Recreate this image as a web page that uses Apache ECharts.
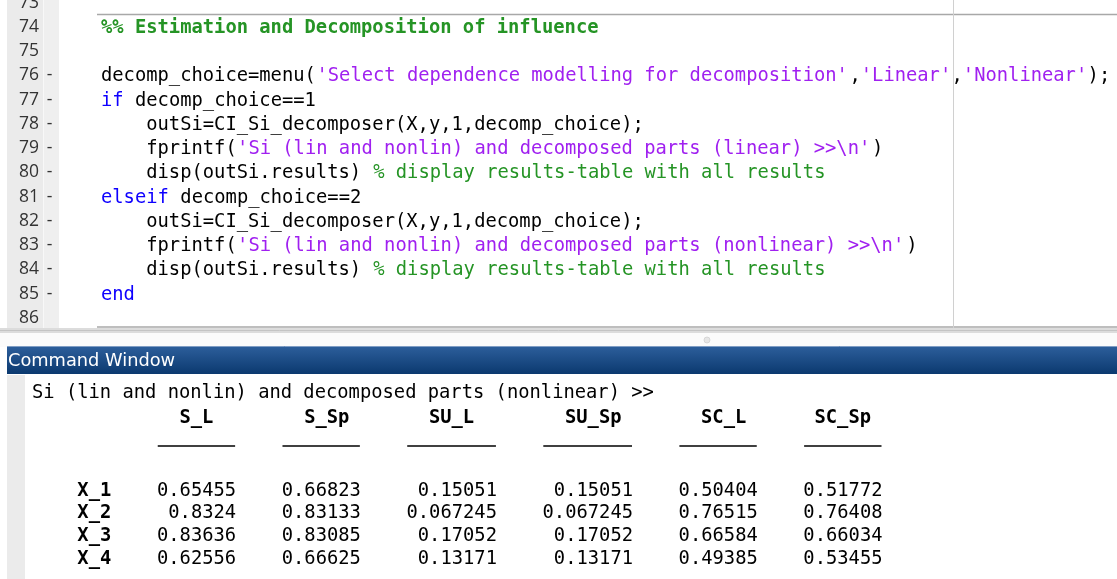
<!DOCTYPE html>
<html>
<head>
<meta charset="utf-8">
<script src="https://cdn.jsdelivr.net/npm/echarts@6/dist/echarts.min.js"></script>
<style>
html,body{margin:0;padding:0;background:#fff;}
#main{width:1117px;height:579px;}
</style>
</head>
<body>
<div id="main"></div>
<script>
// ---- Data ----
var rowNames = ['X_1', 'X_2', 'X_3', 'X_4'];
var colNames = ['S_L', 'S_Sp', 'SU_L', 'SU_Sp', 'SC_L', 'SC_Sp'];
var S_L   = [0.65455, 0.8324, 0.83636, 0.62556];
var S_Sp  = [0.66823, 0.83133, 0.83085, 0.66625];
var SU_L  = [0.15051, 0.067245, 0.17052, 0.13171];
var SU_Sp = [0.15051, 0.067245, 0.17052, 0.13171];
var SC_L  = [0.50404, 0.76515, 0.66584, 0.49385];
var SC_Sp = [0.51772, 0.76408, 0.66034, 0.53455];
var lineNumbers = [73, 74, 75, 76, 77, 78, 79, 80, 81, 82, 83, 84, 85, 86];
var executable = [76, 77, 78, 79, 80, 81, 82, 83, 84, 85];
// code tokens: [text, kind]  kinds: n normal, c comment, s string, k keyword, h cell title
var codeLines = [
  [],
  [['%% Estimation and Decomposition of influence', 'h']],
  [],
  [['decomp_choice=menu(', 'n'], ["'Select dependence modelling for decomposition'", 's'], [',', 'n'], ["'Linear'", 's'], [',', 'n'], ["'Nonlinear'", 's'], [');', 'n']],
  [['if', 'k'], [' decomp_choice==1', 'n']],
  [['    outSi=CI_Si_decomposer(X,y,1,decomp_choice);', 'n']],
  [['    fprintf(', 'n'], ["'Si (lin and nonlin) and decomposed parts (linear) >>\\n'", 's'], [')', 'n']],
  [['    disp(outSi.results) ', 'n'], ['% display results-table with all results', 'c']],
  [['elseif', 'k'], [' decomp_choice==2', 'n']],
  [['    outSi=CI_Si_decomposer(X,y,1,decomp_choice);', 'n']],
  [['    fprintf(', 'n'], ["'Si (lin and nonlin) and decomposed parts (nonlinear) >>\\n'", 's'], [')', 'n']],
  [['    disp(outSi.results) ', 'n'], ['% display results-table with all results', 'c']],
  [['end', 'k']],
  []
];
var outputTitle = 'Si (lin and nonlin) and decomposed parts (nonlinear) >>';
var windowTitle = 'Command Window';

// ---- Rendering ----
var MONO = '"DejaVu Sans Mono", "Liberation Mono", monospace';
var SANS = '"DejaVu Sans", "Open Sans", sans-serif';
var NUMF = '"Open Sans", "DejaVu Sans", sans-serif';
var FS = 18.8;
var CW = 11.34;
var DY = 2;
var colors = { n: '#000000', c: '#259425', s: '#A020F0', k: '#0E00FF', h: '#259425' };

var els = [];
els.push({ type: 'rect', shape: { x: 0, y: 0, width: 1117, height: 579 }, style: { fill: '#ffffff' }, silent: true });
// editor gutter
els.push({ type: 'rect', shape: { x: 7, y: 0, width: 36, height: 329 }, style: { fill: '#ebebeb' } });
els.push({ type: 'rect', shape: { x: 44, y: 0, width: 15, height: 329 }, style: { fill: '#efefef' } });
els.push({ type: 'line', shape: { x1: 43.5, y1: 0, x2: 43.5, y2: 329 }, style: { stroke: '#f8f8f8', lineWidth: 1 } });
// cell border lines
els.push({ type: 'line', shape: { x1: 97, y1: 14.5, x2: 1117, y2: 14.5 }, style: { stroke: '#a8a8a8', lineWidth: 1.5 } });
els.push({ type: 'line', shape: { x1: 97, y1: 327, x2: 1117, y2: 327 }, style: { stroke: '#a8a8a8', lineWidth: 1.5 } });
// right margin line
els.push({ type: 'line', shape: { x1: 953.5, y1: 0, x2: 953.5, y2: 330 }, style: { stroke: '#d0d0d0', lineWidth: 1 } });

var y0 = 26 - 24.25;
var codeX = 101;
for (var i = 0; i < lineNumbers.length; i++) {
  var cy = y0 + i * 24.25;
  els.push({ type: 'text', x: 39, y: cy + 1, style: { text: String(lineNumbers[i]), fill: '#333333', fontSize: 17.5, fontFamily: NUMF, align: 'right', verticalAlign: 'middle' } });
  if (executable.indexOf(lineNumbers[i]) >= 0) {
    els.push({ type: 'text', x: 49.5, y: cy + 1, style: { text: '-', fill: '#333333', fontSize: 17.5, fontFamily: NUMF, align: 'center', verticalAlign: 'middle' } });
  }
  var col = 0;
  var toks = codeLines[i];
  for (var t = 0; t < toks.length; t++) {
    var txt = toks[t][0], kind = toks[t][1];
    els.push({ type: 'text', x: codeX + col * CW, y: cy + DY, style: { text: txt, fill: colors[kind], fontSize: FS, fontFamily: MONO, fontWeight: kind === 'h' ? 'bold' : 'normal', align: 'left', verticalAlign: 'middle' } });
    col += txt.length;
  }
}

// splitter
els.push({ type: 'rect', shape: { x: 0, y: 328, width: 1117, height: 5 }, style: { fill: '#dcdcdc' } });
els.push({ type: 'line', shape: { x1: 0, y1: 330.5, x2: 1117, y2: 330.5 }, style: { stroke: '#c4c4c4', lineWidth: 1 } });
els.push({ type: 'rect', shape: { x: 0, y: 333, width: 1117, height: 14 }, style: { fill: '#fbfbfb' } });
els.push({ type: 'circle', shape: { cx: 707, cy: 340, r: 3 }, style: { fill: '#e6e6e6', stroke: '#d0d0d0', lineWidth: 0.8 } });
// command window title bar
els.push({ type: 'rect', shape: { x: 7, y: 346, width: 1110, height: 28 }, style: {
  fill: new echarts.graphic.LinearGradient(0, 0, 0, 1, [{ offset: 0, color: '#2d5f9c' }, { offset: 1, color: '#0b396f' }]) } });
els.push({ type: 'line', shape: { x1: 7, y1: 346.5, x2: 1117, y2: 346.5 }, style: { stroke: '#7f9dc4', lineWidth: 1 } });
els.push({ type: 'text', x: 8, y: 361, style: { text: windowTitle, fill: '#ffffff', fontSize: 17.8, fontFamily: SANS, align: 'left', verticalAlign: 'middle' } });
// command window gutter
els.push({ type: 'rect', shape: { x: 7, y: 375, width: 18, height: 204 }, style: { fill: '#ebebeb' } });

// command output
var outX = 32;
els.push({ type: 'text', x: outX, y: 391 + DY, style: { text: outputTitle, fill: '#000000', fontSize: FS, fontFamily: MONO, align: 'left', verticalAlign: 'middle' } });

var columns = [S_L, S_Sp, SU_L, SU_Sp, SC_L, SC_Sp];
var nameWidth = 0;
rowNames.forEach(function (r) { nameWidth = Math.max(nameWidth, r.length); });
var startCol = 4 + nameWidth + 4;
var rowY = [489, 511.5, 534, 557];
var colStart = startCol;
for (var c = 0; c < columns.length; c++) {
  var strs = columns[c].map(function (v) { return String(v); });
  var w = colNames[c].length;
  strs.forEach(function (s) { w = Math.max(w, s.length); });
  var left = outX + colStart * CW;
  var right = outX + (colStart + w) * CW;
  // header centered over column
  var pad = Math.ceil((w - colNames[c].length) / 2);
  els.push({ type: 'text', x: left + pad * CW, y: 416 + DY, style: { text: colNames[c], fill: '#000000', fontSize: FS, fontFamily: MONO, fontWeight: 'bold', align: 'left', verticalAlign: 'middle' } });
  els.push({ type: 'line', shape: { x1: left + 1, y1: 446, x2: right - 1, y2: 446 }, style: { stroke: '#000000', lineWidth: 1.4 } });
  for (var r = 0; r < strs.length; r++) {
    els.push({ type: 'text', x: right, y: rowY[r] + DY, style: { text: strs[r], fill: '#000000', fontSize: FS, fontFamily: MONO, align: 'right', verticalAlign: 'middle' } });
  }
  colStart += w + 4;
}
for (var r2 = 0; r2 < rowNames.length; r2++) {
  els.push({ type: 'text', x: outX + 4 * CW, y: rowY[r2] + DY, style: { text: rowNames[r2], fill: '#000000', fontSize: FS, fontFamily: MONO, fontWeight: 'bold', align: 'left', verticalAlign: 'middle' } });
}

var chart = echarts.init(document.getElementById('main'), null, { renderer: 'canvas' });
chart.setOption({ animation: false, backgroundColor: '#ffffff', graphic: { elements: els } });
</script>
</body>
</html>
